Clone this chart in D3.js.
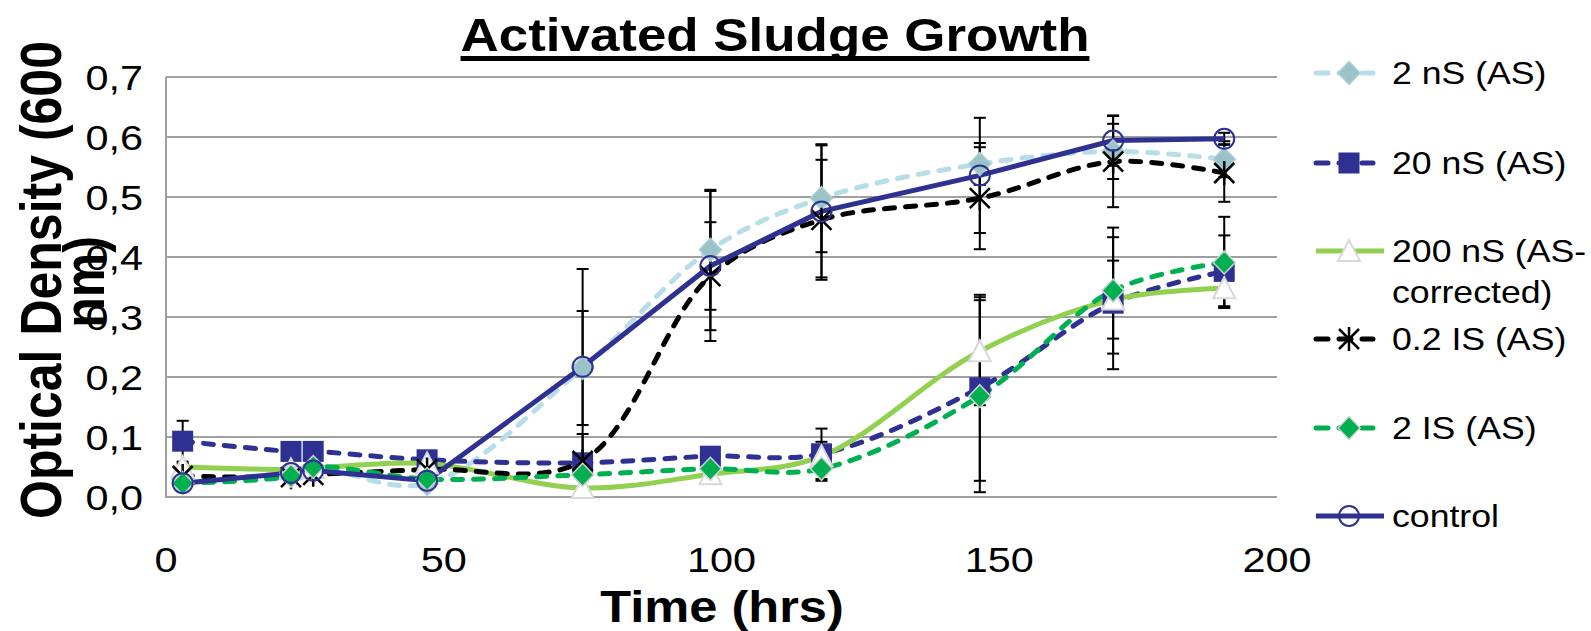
<!DOCTYPE html>
<html>
<head>
<meta charset="utf-8">
<script src="https://cdn.jsdelivr.net/npm/d3@7"></script>
<style>
  body { margin: 0; background: #fff; }
  text { font-family: "Liberation Sans", Arial, sans-serif; fill: #000; }
</style>
</head>
<body>
<div id="chart"></div>
<script>
const width = 1591, height = 631;
const margin = { top: 77, right: 314, bottom: 134, left: 166 };
const SX = 1.15; // source image text is stretched horizontally

// DATA
const times = [3, 22.5, 26.5, 47, 75, 98, 118, 146.5, 170.5, 190.5];
const yTicks = [0, 0.1, 0.2, 0.3, 0.4, 0.5, 0.6, 0.7];
const xTicks = [0, 50, 100, 150, 200];

const nS2      = [0.030, 0.040, 0.050, 0.022, 0.215, 0.412, 0.498, 0.555, 0.576, 0.563];
const nS20     = [0.093, 0.076, 0.076, 0.062, 0.057, 0.068, 0.072, 0.182, 0.323, 0.376];
const nS200    = [0.050, 0.046, 0.048, 0.056, 0.015, 0.038, 0.068, 0.243, 0.329, 0.348];
const IS02     = [0.035, 0.033, 0.037, 0.046, 0.060, 0.368, 0.462, 0.498, 0.559, 0.540];
const IS2      = [0.023, 0.035, 0.050, 0.030, 0.037, 0.047, 0.047, 0.168, 0.344, 0.391];
const control  = [0.023, 0.040, 0.044, 0.027, 0.217, 0.385, 0.476, 0.536, 0.594, 0.597];

// symmetric error bars
const nS2Err     = [0.004, 0.004, 0.004, 0.004, 0.095, 0.100, 0.090, 0.035, 0.046, 0.030];
const nS20Err    = [0.034, 0.004, 0.004, 0.010, 0.010, 0.006, 0.042, 0.155, 0.110, 0.060];
const nS200Err   = [0.006, 0.004, 0.004, 0.010, 0.013, 0.006, 0.024, 0.090, 0.065, 0.030];
const IS02Err    = [0.006, 0.004, 0.004, 0.006, 0.045, 0.090, 0.100, 0.085, 0.076, 0.048];
const IS2Err     = [0.004, 0.004, 0.004, 0.004, 0.004, 0.006, 0.020, 0.160, 0.105, 0.076];
const controlErr = [0.004, 0.004, 0.004, 0.004, 0.163, 0.125, 0.110, 0.096, 0.042, 0.010];

const series = [
  { name: "2 nS (AS)", values: nS2, err: nS2Err, color: "#b7dee8", dash: true, smooth: true, marker: "diamond", mFill: "#9bc3c7", mStroke: "#a9cfd6" },
  { name: "20 nS (AS)", values: nS20, err: nS20Err, color: "#2e3192", dash: true, smooth: true, marker: "square", mFill: "#2e3192", mStroke: "#2e3192" },
  { name: ["200 nS (AS-", "corrected)"], values: nS200, err: nS200Err, color: "#92d050", dash: false, smooth: true, marker: "triangle", mFill: "#fff", mStroke: "#d9d9d9" },
  { name: "0.2 IS (AS)", values: IS02, err: IS02Err, color: "#000", dash: true, smooth: true, marker: "star", mFill: "none", mStroke: "#000" },
  { name: "2 IS (AS)", values: IS2, err: IS2Err, color: "#00b050", dash: true, smooth: true, marker: "diamond", mFill: "#00b050", mStroke: "#d0d0d0" },
  { name: "control", values: control, err: controlErr, color: "#2e3192", dash: false, smooth: false, marker: "circle", mFill: "none", mStroke: "#2e3192" }
];

const svg = d3.select("#chart").append("svg")
  .attr("width", width)
  .attr("height", height);

const x = d3.scaleLinear().domain([0, 200]).range([margin.left, width - margin.right]);
const y = d3.scaleLinear().domain([0, 0.7]).range([height - margin.bottom, margin.top]);

const fmt = d => d3.format(".1f")(d).replace(".", ",");

// stretched text helper
function stext(g, tx, ty, str, size, opts = {}) {
  const rot = opts.rotate ? " rotate(-90)" : "";
  return g.append("text")
    .attr("transform", `translate(${tx},${ty}) scale(${SX},1)${rot}`)
    .attr("text-anchor", opts.anchor || "start")
    .attr("font-size", size)
    .attr("font-weight", opts.bold ? "bold" : "normal")
    .text(str);
}

// GRID
svg.append("g").selectAll("line").data(yTicks).join("line")
  .attr("x1", x(0)).attr("x2", x(200))
  .attr("y1", d => y(d)).attr("y2", d => y(d))
  .attr("stroke", "#a0a0a0").attr("stroke-width", 2);

svg.append("line")
  .attr("x1", x(0)).attr("x2", x(0))
  .attr("y1", y(0) + 1).attr("y2", y(0.7))
  .attr("stroke", "#a0a0a0").attr("stroke-width", 2);

// AXIS LABELS
yTicks.forEach(t => stext(svg, 143, y(t) + 13, fmt(t), 36, { anchor: "end" }));
xTicks.forEach(t => stext(svg, x(t), 572, t, 36, { anchor: "middle" }));

stext(svg, 722, 622, "Time (hrs)", 44, { anchor: "middle", bold: true });
stext(svg, 61, 280, "Optical Density (600", 50, { anchor: "middle", bold: true, rotate: true });
stext(svg, 104, 282, "nm)", 50, { anchor: "middle", bold: true, rotate: true });

// TITLE
const title = stext(svg, 775, 51, "Activated Sludge Growth", 46, { anchor: "middle", bold: true });
const tw = title.node().getComputedTextLength() * SX;
svg.append("rect")
  .attr("x", 775 - tw / 2).attr("y", 56)
  .attr("width", tw).attr("height", 5)
  .attr("fill", "#000");

// MARKERS
function drawMarker(g, s, cx, cy) {
  const m = s.marker;
  if (m === "diamond") {
    g.append("path").attr("d", `M${cx},${cy - 11.5}L${cx + 11},${cy}L${cx},${cy + 11.5}L${cx - 11},${cy}Z`)
      .attr("fill", s.mFill).attr("stroke", s.mStroke).attr("stroke-width", 1.5);
  } else if (m === "square") {
    g.append("rect").attr("x", cx - 10.5).attr("y", cy - 10.5).attr("width", 21).attr("height", 21)
      .attr("fill", s.mFill);
  } else if (m === "triangle") {
    g.append("path").attr("d", `M${cx},${cy - 11}L${cx + 11},${cy + 10}L${cx - 11},${cy + 10}Z`)
      .attr("fill", s.mFill).attr("stroke", s.mStroke).attr("stroke-width", 2);
  } else if (m === "star") {
    g.append("path").attr("d",
      `M${cx - 10},${cy - 10}L${cx + 10},${cy + 10}M${cx - 10},${cy + 10}L${cx + 10},${cy - 10}M${cx},${cy - 12}L${cx},${cy + 12}`)
      .attr("stroke", "#000").attr("stroke-width", 2.5).attr("fill", "none");
  } else if (m === "circle") {
    g.append("circle").attr("cx", cx).attr("cy", cy).attr("r", 10)
      .attr("fill", "none").attr("stroke", s.mStroke).attr("stroke-width", 2);
  }
}

// ERROR BARS
const errG = svg.append("g");
series.forEach(s => {
  s.values.forEach((v, i) => {
    const e = s.err[i];
    const cx = x(times[i]);
    errG.append("line").attr("x1", cx).attr("x2", cx)
      .attr("y1", y(v - e)).attr("y2", y(v + e))
      .attr("stroke", "#000").attr("stroke-width", 2);
    [v - e, v + e].forEach(b => errG.append("line")
      .attr("x1", cx - 6).attr("x2", cx + 6)
      .attr("y1", y(b)).attr("y2", y(b))
      .attr("stroke", "#000").attr("stroke-width", 2));
  });
});

// LINES
series.forEach(s => {
  const line = d3.line()
    .x((d, i) => x(times[i]))
    .y(d => y(d))
    .curve(s.smooth ? d3.curveCatmullRom.alpha(0.5) : d3.curveLinear);

  svg.append("path")
    .datum(s.values)
    .attr("fill", "none")
    .attr("stroke", s.color)
    .attr("stroke-width", 5)
    .attr("stroke-linecap", s.dash ? "round" : "butt")
    .attr("stroke-dasharray", s.dash ? "10,11" : null)
    .attr("d", line);
});

series.forEach(s => {
  const g = svg.append("g");
  s.values.forEach((v, i) => drawMarker(g, s, x(times[i]), y(v)));
});

// LEGEND
const legendY = [73, 163, 251, 339, 428, 516];
series.forEach((s, i) => {
  const ly = legendY[i];
  svg.append("line")
    .attr("x1", 1316).attr("x2", s.dash ? 1373 : 1384)
    .attr("y1", ly).attr("y2", ly)
    .attr("stroke", s.color).attr("stroke-width", 5)
    .attr("stroke-linecap", s.dash ? "round" : "butt")
    .attr("stroke-dasharray", s.dash ? "12,11" : null);
  drawMarker(svg, s, 1349, ly);
  const names = Array.isArray(s.name) ? s.name : [s.name];
  names.forEach((n, k) => stext(svg, 1392, ly + 11 + k * 41, n, 31));
});
</script>
</body>
</html>
